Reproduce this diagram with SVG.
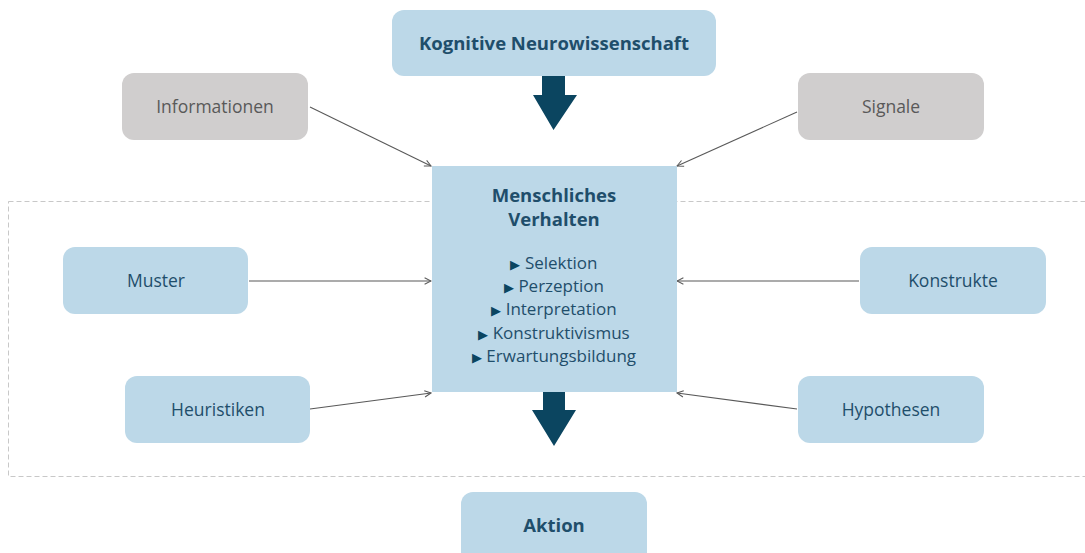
<svg xmlns="http://www.w3.org/2000/svg" width="1085" height="553" viewBox="0 0 1085 553">
<defs>
<style>
.box{fill:#bcd8e8;}
.gbox{fill:#d0cece;}
.t{font-family:"Open Sans","Noto Sans",sans-serif;font-size:17.5px;fill:#1f4e6b;text-anchor:middle;}
.tg{font-family:"Open Sans","Noto Sans",sans-serif;font-size:17.5px;fill:#595959;text-anchor:middle;}
.tb{font-family:"Open Sans","Noto Sans",sans-serif;font-size:18.5px;font-weight:bold;fill:#1f4e6b;text-anchor:middle;}
.li{font-family:"Open Sans","Noto Sans",sans-serif;font-size:17px;fill:#1f4e6b;text-anchor:middle;}
.bul{font-size:13px;fill:#0b4560;}
.con{stroke:#595959;stroke-width:1.1;fill:none;marker-end:url(#ah);}
.big{fill:#0b4560;}
</style>
<marker id="ah" viewBox="0 0 10 10" refX="9" refY="5" markerWidth="8" markerHeight="8" orient="auto" markerUnits="userSpaceOnUse">
<path d="M1,1 L9,5 L1,9" fill="none" stroke="#595959" stroke-width="1.3"/>
</marker>
</defs>
<rect x="8.5" y="201.5" width="1090" height="275" fill="none" stroke="#c8c8c8" stroke-width="1" stroke-dasharray="5,3"/>
<g id="connectors">
<line class="con" x1="310" y1="107" x2="431" y2="166"/>
<line class="con" x1="797" y1="112" x2="677" y2="166"/>
<line class="con" x1="249" y1="281" x2="431" y2="281"/>
<line class="con" x1="859" y1="281" x2="677" y2="281"/>
<line class="con" x1="310" y1="409" x2="431" y2="393"/>
<line class="con" x1="797" y1="409" x2="677" y2="393"/>
<path class="big" d="M542,76 H565 V95 H577 L553.5,130 L533,95 H542 Z"/>
<path class="big" d="M543,392 H565 V410 H576 L554,446 L532,410 H543 Z"/>
</g>
<g id="kognitive">
<rect class="box" x="392" y="10" width="324" height="66" rx="12"/>
<text class="tb" x="554" y="50">Kognitive Neurowissenschaft</text>
</g>
<g id="informationen">
<rect class="gbox" x="122" y="73" width="186" height="67" rx="12"/>
<text class="tg" x="215" y="113">Informationen</text>
</g>
<g id="signale">
<rect class="gbox" x="798" y="73" width="186" height="67" rx="12"/>
<text class="tg" x="891" y="113">Signale</text>
</g>
<g id="verhalten">
<rect class="box" x="432" y="166" width="245" height="226"/>
<text class="tb" x="554" y="202">Menschliches</text>
<text class="tb" x="554" y="226">Verhalten</text>
<text class="li" x="554" y="269"><tspan class="bul">▶</tspan> Selektion</text>
<text class="li" x="554" y="292"><tspan class="bul">▶</tspan> Perzeption</text>
<text class="li" x="554" y="315"><tspan class="bul">▶</tspan> Interpretation</text>
<text class="li" x="554" y="339"><tspan class="bul">▶</tspan> Konstruktivismus</text>
<text class="li" x="554" y="362"><tspan class="bul">▶</tspan> Erwartungsbildung</text>
</g>
<g id="muster">
<rect class="box" x="63" y="247" width="185" height="67" rx="12"/>
<text class="t" x="156" y="287">Muster</text>
</g>
<g id="konstrukte">
<rect class="box" x="860" y="247" width="186" height="67" rx="12"/>
<text class="t" x="953" y="287">Konstrukte</text>
</g>
<g id="heuristiken">
<rect class="box" x="125" y="376" width="185" height="67" rx="12"/>
<text class="t" x="218" y="416">Heuristiken</text>
</g>
<g id="hypothesen">
<rect class="box" x="798" y="376" width="186" height="67" rx="12"/>
<text class="t" x="891" y="416">Hypothesen</text>
</g>
<g id="aktion">
<rect class="box" x="461" y="492" width="186" height="80" rx="12"/>
<text class="tb" x="554" y="532">Aktion</text>
</g>
</svg>
